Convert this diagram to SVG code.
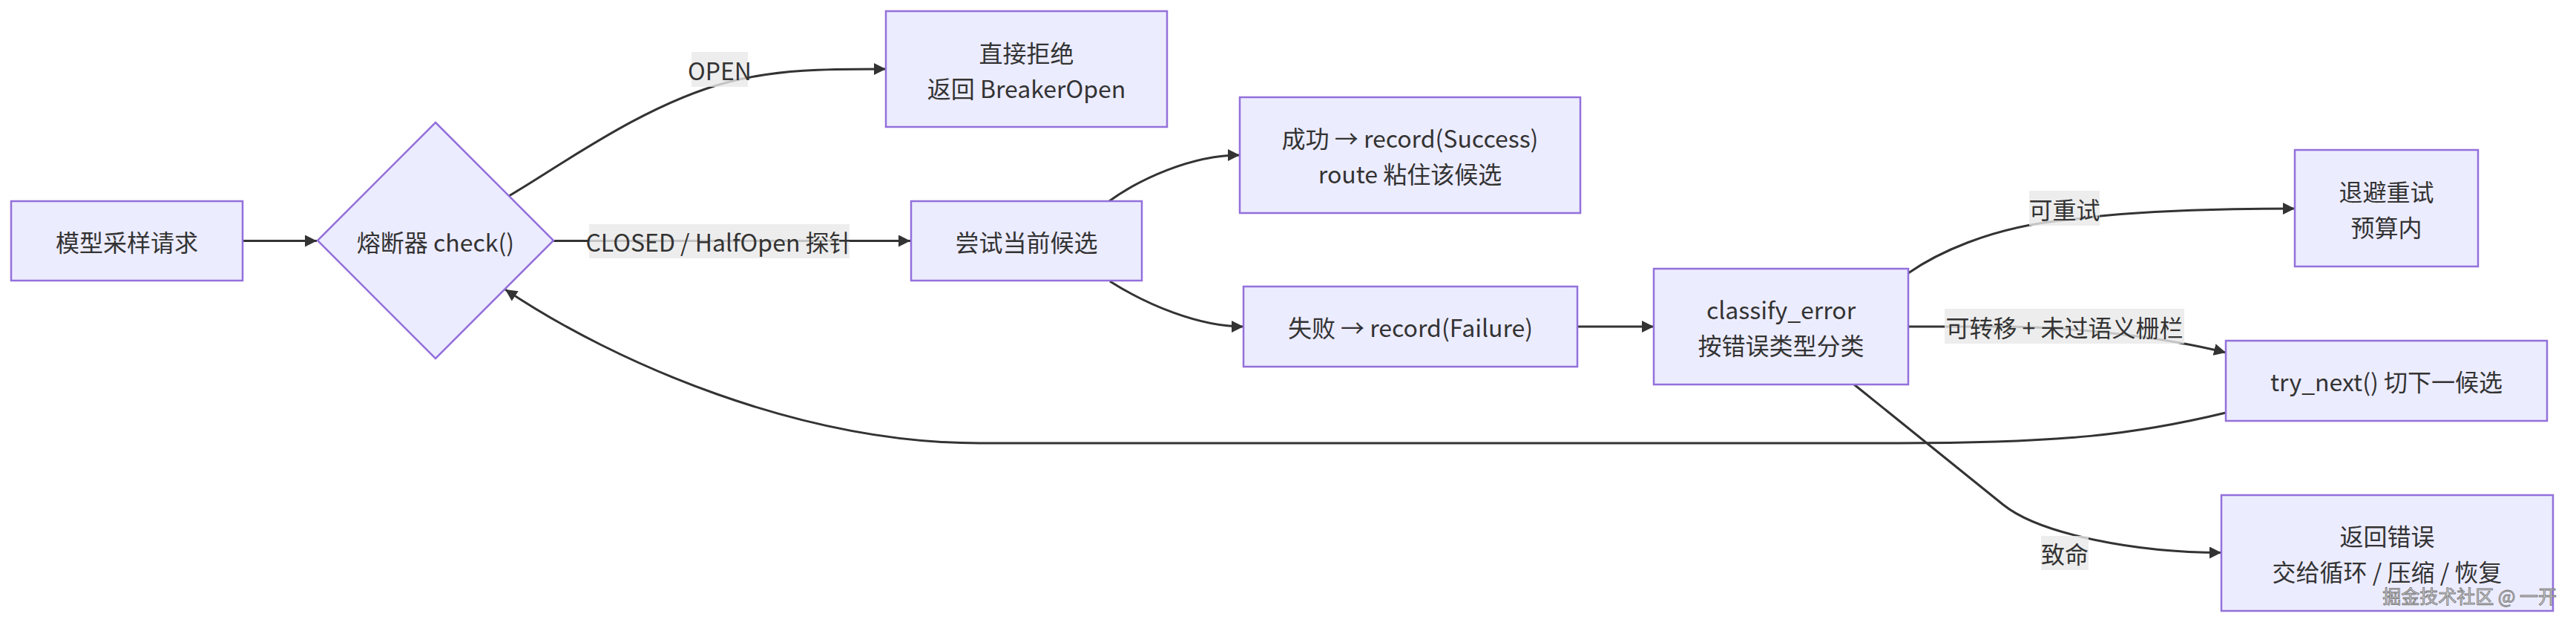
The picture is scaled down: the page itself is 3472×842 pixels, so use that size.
<svg xmlns="http://www.w3.org/2000/svg" width="3472" height="842" viewBox="0 0 3472 842">
<style>
.node rect,.node polygon{fill:#ECECFF;stroke:#9370DB;stroke-width:2.5}
text{font-family:"Noto Sans CJK SC","Noto Sans",sans-serif;font-size:32px;fill:#333;text-anchor:middle;dominant-baseline:central}
.edge{fill:none;stroke:#333;stroke-width:3;marker-end:url(#arr)}
.lbl rect{fill:#e8e8e8;opacity:0.8}
.wm{font-size:25px;fill:#d8d8d8;stroke:#7a7a7a;stroke-width:0.9;text-anchor:end;dominant-baseline:alphabetic}
</style>
<defs>
<marker id="arr" viewBox="0 0 10 10" refX="10" refY="5" markerUnits="userSpaceOnUse" markerWidth="16" markerHeight="16" orient="auto">
<path d="M0 0 L10 5 L0 10 z" fill="#333"/>
</marker>
</defs>
<rect width="3472" height="842" fill="#fff"/>
<g id="connectors">
<path class="edge" d="M327 324.5 L427 324.5"/>
<path class="edge" d="M686 264 C760 220, 870 140, 980 111 C1050 92.5, 1120 93, 1194 93"/>
<path class="edge" d="M746 324.5 L1227 324.5"/>
<path class="edge" d="M1495 271 C1535 242, 1605 209, 1671 209"/>
<path class="edge" d="M1496 379 C1545 410, 1615 440, 1676 440"/>
<path class="edge" d="M2126 440 L2229 440"/>
<path class="edge" d="M2572 368 C2605 345, 2680 305, 2790 296 C2880 283, 3000 281, 3093 281"/>
<path class="edge" d="M2572 440 L2690 440 C2800 440, 2920 455, 3000 475"/>
<path class="edge" d="M2499 518 L2700 680 C2750 720, 2880 744.5, 2994 744.5"/>
<path class="edge" d="M3000 556 C2880 585, 2780 597, 2560 597 L1320 597 C1080 597, 830 490, 681 390"/>
<g class="lbl"><rect x="932" y="70" width="76" height="47"/><text x="970" y="93.5">OPEN</text></g>
<g class="lbl"><rect x="794" y="302" width="351" height="46"/><text x="969.5" y="325">CLOSED / HalfOpen 探针</text></g>
<g class="lbl"><rect x="2735" y="257" width="95" height="47"/><text x="2782.5" y="280.5">可重试</text></g>
<g class="lbl"><rect x="2621" y="416" width="323" height="47"/><text x="2782.5" y="439.5">可转移 + 未过语义栅栏</text></g>
<g class="lbl"><rect x="2751" y="722" width="64" height="46"/><text x="2783" y="745">致命</text></g>
</g>
<g id="n-request" class="node"><rect x="15" y="271" width="312" height="107"/><text x="171" y="324.5">模型采样请求</text></g>
<g id="n-breaker" class="node"><polygon points="587,165 746,324 587,483 428,324"/><text x="587" y="324.5">熔断器 check()</text></g>
<g id="n-reject" class="node"><rect x="1194" y="15" width="379" height="156"/><text x="1383.5" y="70">直接拒绝</text><text x="1383.5" y="118">返回 BreakerOpen</text></g>
<g id="n-try" class="node"><rect x="1228" y="271" width="311" height="107"/><text x="1383.5" y="324.5">尝试当前候选</text></g>
<g id="n-success" class="node"><rect x="1671" y="131" width="459" height="156"/><text x="1900.5" y="185">成功 → record(Success)</text><text x="1900.5" y="233">route 粘住该候选</text></g>
<g id="n-fail" class="node"><rect x="1676" y="386" width="450" height="108"/><text x="1901" y="440">失败 → record(Failure)</text></g>
<g id="n-classify" class="node"><rect x="2229" y="362" width="343" height="156"/><text x="2400.5" y="416">classify_error</text><text x="2400.5" y="464">按错误类型分类</text></g>
<g id="n-retry" class="node"><rect x="3093" y="202" width="247" height="157"/><text x="3216.5" y="257">退避重试</text><text x="3216.5" y="305">预算内</text></g>
<g id="n-next" class="node"><rect x="3000" y="459" width="433" height="108"/><text x="3216.5" y="513">try_next() 切下一候选</text></g>
<g id="n-error" class="node"><rect x="2994" y="667" width="447" height="156"/><text x="3217.5" y="721">返回错误</text><text x="3217.5" y="769">交给循环 / 压缩 / 恢复</text></g>
<text class="wm" x="3446" y="813">掘金技术社区 @ 一开</text>
</svg>
